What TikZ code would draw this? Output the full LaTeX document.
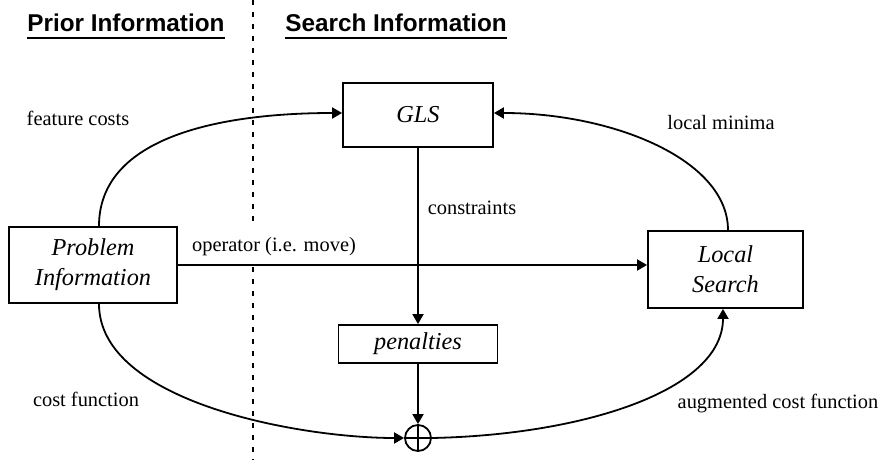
\documentclass[tikz,border=0pt]{standalone}
\usepackage{fontspec}
\setmainfont{Liberation Serif}
\setsansfont{Liberation Sans}
\usetikzlibrary{arrows.meta}

\begin{document}
\begin{tikzpicture}[
    x=0.5pt, y=-0.5pt,
    box/.style={draw, line width=0.9pt, inner sep=0pt, align=center, font=\fontsize{12.15}{15}\selectfont\itshape},
    lbl/.style={inner sep=0pt, font=\fontsize{10.2}{12}\selectfont},
    heading/.style={inner sep=0pt, anchor=base west, font=\fontsize{12.15}{15}\selectfont\sffamily\bfseries},
    link/.style={draw, line width=0.9pt, -{Triangle[length=5pt, width=5.5pt]}},
    separator/.style={line width=1.3pt, dash pattern=on 2.5pt off 3.5pt}
]
    \useasboundingbox (0,0) rectangle (885,460);

    % headings
    \node[heading] (prior) at (27,32) {Prior Information};
    \node[heading] (search) at (285,32) {Search Information};
    \draw[line width=0.6pt] ([yshift=-3pt]prior.base west) -- ([yshift=-3pt]prior.base east);
    \draw[line width=0.6pt] ([yshift=-3pt]search.base west) -- ([yshift=-3pt]search.base east);
    \draw[separator] (253,0) -- (253,223);
    \draw[separator] (253,267) -- (253,460);

    % boxes
    \node[box, minimum width=84pt, minimum height=38pt] (prob) at (93,265) {Problem\\Information};
    \node[box, minimum width=75pt, minimum height=32pt] (gls) at (418,115) {GLS};
    \node[box, minimum width=77.5pt, minimum height=38.5pt] (ls) at (725.5,269.5) {Local\\Search};
    \node[box, minimum width=79.5pt, minimum height=19pt] (pen) at (418,344) {penalties};
    \node[draw, circle, line width=0.9pt, minimum size=13pt, inner sep=0pt,
        path picture={\draw[line width=0.9pt]
            (path picture bounding box.north) -- (path picture bounding box.south)
            (path picture bounding box.west) -- (path picture bounding box.east);}] (plus) at (418,438) {};

    % labels
    \node[lbl] (fc) at (78,118) {feature costs};
    \node[lbl] (lm) at (721,123) {local minima};
    \node[lbl] (con) at (472,208) {constraints};
    \node[lbl] (op) at (274,247) {operator (i.e. move)};
    \node[lbl] (cf) at (86,399) {cost function};
    \node[lbl] (acf) at (778,404) {augmented cost function};

    % connectors
    \draw[link] ([xshift=3pt]prob.north) .. controls +(0,-90) and +(-120,0) .. ([yshift=1pt]gls.west);
    \draw[link] ([xshift=1.25pt]ls.north) .. controls +(0,-70) and +(120,0) .. ([yshift=1pt]gls.east);
    \draw[link] (prob) -- (prob -| ls.west);
    \draw[link] (gls) -- (pen);
    \draw[link] (pen) -- (plus);
    \draw[link] ([xshift=3pt]prob.south) .. controls +(0,98) and +(-105,0) .. (plus.west);
    \draw[link] (plus.east) .. controls +(150,-3) and +(0,82) .. ([xshift=-1.25pt]ls.south);

\end{tikzpicture}
\end{document}
